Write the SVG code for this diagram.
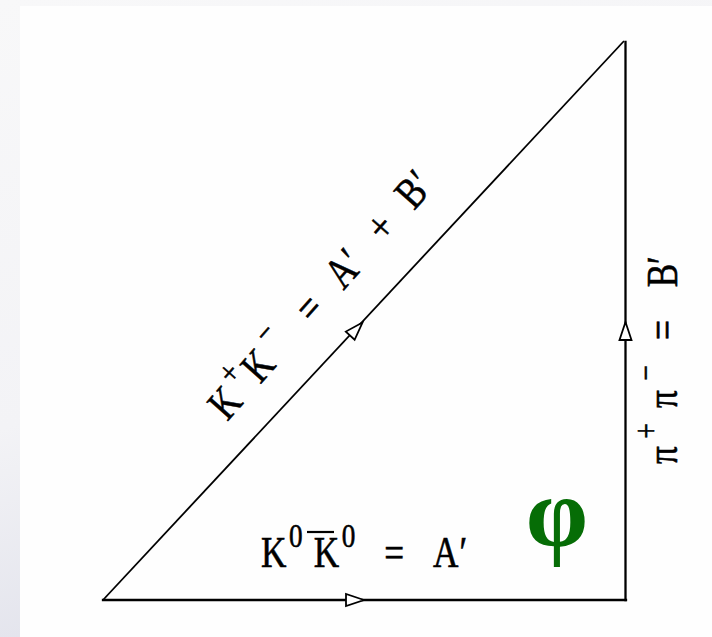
<svg xmlns="http://www.w3.org/2000/svg" width="712" height="637" viewBox="0 0 712 637">
<style>
.edge{stroke:#000;stroke-width:2.3;fill:none;stroke-linecap:square}
.hyp{stroke:#000;stroke-width:1.8;fill:none}
.arr{fill:#fff;stroke:#000;stroke-width:1.8;stroke-linejoin:miter}
.lbl{font-family:"Liberation Serif","Times New Roman",serif;fill:#000;stroke:#000;stroke-width:0.6}
.big{font-size:44px}
.sup{font-size:34px}
.phi{font-family:"Liberation Serif","Times New Roman",serif;font-weight:bold;font-size:100px;fill:#066d06}
</style>
<defs>
<linearGradient id="bg" x1="0" y1="0" x2="0.35" y2="1">
<stop offset="0" stop-color="#f8f8f9"/>
<stop offset="0.6" stop-color="#f3f3f6"/>
<stop offset="1" stop-color="#dfe0ea"/>
</linearGradient>
<path id="tri" d="M0,0 L-18,-6 L-18,6 Z"/>
</defs>
<rect x="0" y="0" width="712" height="637" fill="url(#bg)"/>
<rect x="20" y="6" width="692" height="631" fill="#fefefe"/>
<g id="connectors">
<line class="hyp" x1="103" y1="600" x2="624" y2="41"/>
<line class="edge" x1="103" y1="600" x2="626" y2="600"/>
<line class="edge" x1="625.5" y1="42" x2="625.5" y2="600"/>
<use href="#tri" class="arr" transform="translate(364,600)"/>
<use href="#tri" class="arr" transform="translate(625.5,322)rotate(-90)"/>
<use href="#tri" class="arr" transform="translate(362.5,322.5)rotate(-47)"/>
</g>
<g id="label-kk-neutral">
<g transform="translate(261,567) scale(0.8,1)" class="lbl">
<text class="big" x="0" y="0">K</text>
<text class="sup" x="35" y="-20">0</text>
<text class="big" x="66" y="0">K</text>
<text class="sup" x="101" y="-20">0</text>
<text class="big" x="154" y="0">=</text>
<text class="big" x="215" y="0">A</text>
<text class="big" x="248" y="0">′</text>
</g>
<line x1="307" y1="532" x2="334" y2="532" stroke="#000" stroke-width="2.2"/>
</g>
<g id="label-kk-charged">
<g transform="translate(222,428) rotate(-48.5) scale(0.8,1)" class="lbl">
<text class="big" x="10" y="0">K</text>
<text class="sup" x="48" y="-20">+</text>
<text class="big" x="72" y="0">K</text>
<text class="sup" x="115" y="-20">−</text>
<text class="big" x="172" y="0">=</text>
<text class="big" x="229" y="0">A</text>
<text class="big" x="262" y="0">′</text>
<text class="big" x="307" y="0">+</text>
<text class="big" x="362" y="0">B</text>
<text class="big" x="393" y="0">′</text>
</g>
</g>
<g id="label-pipi">
<g transform="translate(677,464) rotate(-90) scale(0.8,1)" class="lbl">
<text class="big" x="0" y="0">π</text>
<text class="sup" x="32" y="-20">+</text>
<text class="big" x="70" y="0">π</text>
<text class="sup" x="104" y="-20">−</text>
<text class="big" x="155" y="0">=</text>
<text class="big" x="221" y="0">B</text>
<text class="big" x="250" y="0">′</text>
</g>
</g>
<g id="label-phi">
<text class="phi" x="557" y="546" text-anchor="middle">φ</text>
</g>
</svg>
